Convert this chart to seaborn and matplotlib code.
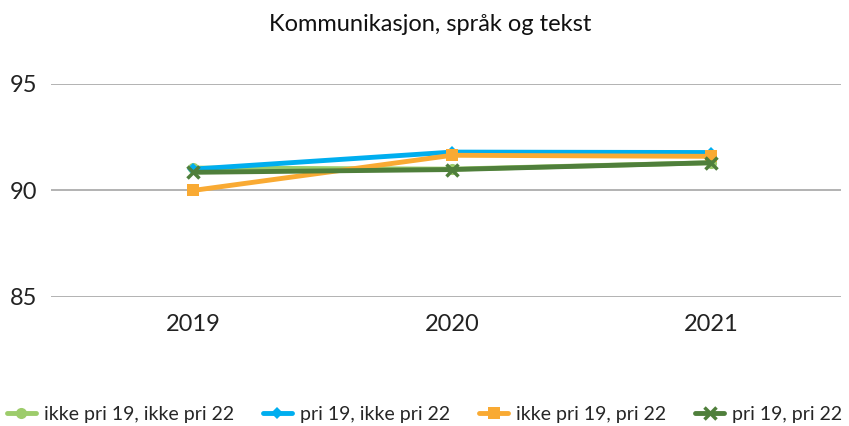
import matplotlib
matplotlib.use("Agg")
import matplotlib.pyplot as plt
import seaborn as sns
import pandas as pd

years = ["2019", "2020", "2021"]
series_names = ["ikke pri 19, ikke pri 22", "pri 19, ikke pri 22", "ikke pri 19, pri 22", "pri 19, pri 22"]
ikke_ikke = [91.05, 91.0, 91.3]
pri_ikke = [91.0, 91.8, 91.78]
ikke_pri = [90.0, 91.65, 91.6]
pri_pri = [90.85, 90.98, 91.3]
yticks = [85, 90, 95]

colors = ["#9DCC6B", "#00AEEF", "#F9AA33", "#4F7F3B"]
markers = ["o", "D", "s", "X"]
msizes = [8, 6, 8, 9]

rows = []
for name, vals in zip(series_names, [ikke_ikke, pri_ikke, ikke_pri, pri_pri]):
    for i, (y, v) in enumerate(zip(years, vals)):
        rows.append({"year": y, "x": i, "value": v, "series": name})
df = pd.DataFrame(rows)

sns.set_style("white")
plt.rcParams['font.family'] = ['Lato', 'DejaVu Sans']

fig = plt.figure(figsize=(8.49, 4.26), dpi=100)
ax = fig.add_axes([0.06, 0.303, 0.93, 0.5])

for name, c, m, ms in zip(series_names, colors, markers, msizes):
    sub = df[df.series == name]
    mk = 'x' if m == 'X' else m
    sns.lineplot(data=sub, x="x", y="value", ax=ax, color=c, linewidth=3.5,
                 marker=mk, markersize=ms, markeredgewidth=2.5 if mk == 'x' else 0,
                 markeredgecolor=c, label=name, sort=False)

ax.set_xlim(-0.55, 2.5)
ax.set_ylim(85, 95)
ax.set_yticks(yticks)
ax.set_xticks(range(len(years)))
ax.set_xticklabels(years)
ax.set_xlabel("")
ax.set_ylabel("")
ax.tick_params(axis='both', labelsize=17, length=0, colors="#222222")
ax.tick_params(axis='x', pad=12)
ax.tick_params(axis='y', pad=10)
ax.grid(axis='y', color="#A6A6A6", linewidth=1.2)
ax.set_axisbelow(True)
for s in ax.spines.values():
    s.set_visible(False)
fig.suptitle("Kommunikasjon, språk og tekst", fontsize=17, x=0.507, y=0.968,
             va="top", color="#111111")

h, l = ax.get_legend_handles_labels()
ax.get_legend().remove()
fig.legend(h, l, loc="lower center", bbox_to_anchor=(0.5, -0.02), ncol=4, frameon=False,
           fontsize=14, handlelength=1.5, columnspacing=1.5, handletextpad=0.4,
           borderaxespad=0.2)

fig.savefig("out.png", dpi=100)
